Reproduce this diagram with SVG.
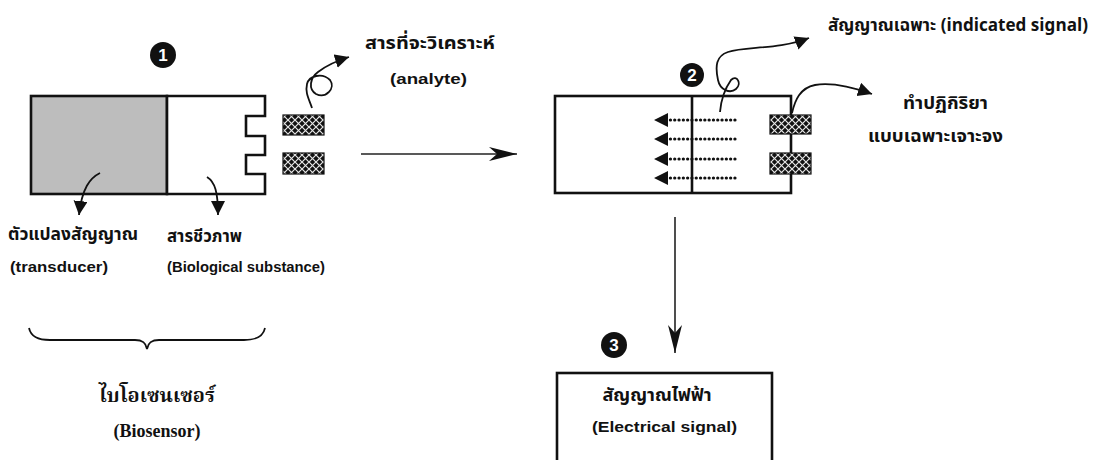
<svg xmlns="http://www.w3.org/2000/svg" width="1099" height="460" viewBox="0 0 1099 460">
<style>
.t{font-family:Tahoma,"Noto Sans Thai","Noto Sans","Liberation Sans",sans-serif;font-size:18px;fill:#111;font-weight:bold}
.e{font-family:"Liberation Sans",Arial,sans-serif;font-size:15px;fill:#111;font-weight:bold}
.s{font-family:"Liberation Serif","Noto Serif Thai","Noto Sans Thai",serif;font-size:20px;fill:#111;font-weight:bold}
.box{fill:#fff;stroke:#111;stroke-width:2.6}
.curve{fill:none;stroke:#111;stroke-width:1.8}
.thin{fill:none;stroke:#222;stroke-width:1.6}
.dots{fill:none;stroke:#111;stroke-width:3.2;stroke-linecap:round;stroke-dasharray:0.1 4.2}
.num{fill:#111}
.dig{font-family:"Liberation Sans",Arial,sans-serif;font-size:17px;font-weight:bold;fill:#fff}
.pad{fill:url(#hatch);stroke:#111;stroke-width:1.2}
</style>
<defs>
<pattern id="hatch" width="7" height="7" patternUnits="userSpaceOnUse" x="1" y="1">
<rect width="7" height="7" fill="#111"/>
<path d="M0,0 L7,7 M7,0 L0,7" stroke="#e6e6e6" stroke-width="1.2"/>
</pattern>
<linearGradient id="fade" x1="0" x2="1" y1="0" y2="0">
<stop offset="0" stop-color="#b8b8b8"/>
<stop offset="0.68" stop-color="#bdbdbd"/>
<stop offset="1" stop-color="#ececec"/>
</linearGradient>
<marker id="tri" markerUnits="userSpaceOnUse" markerWidth="16" markerHeight="16" refX="14" refY="7" orient="auto">
<path d="M0,0 L14,7 L0,14 Z" fill="#111"/>
</marker>
<marker id="barb" markerUnits="userSpaceOnUse" markerWidth="32" markerHeight="18" refX="30" refY="8" orient="auto">
<path d="M2,1 L30,8 L2,15 L10,8 Z" fill="#111"/>
</marker>
</defs>

<g id="sensor1">
<rect x="31" y="96" width="136" height="98" fill="#bdbdbd" stroke="#111" stroke-width="2.6"/>
<path class="box" d="M167,96 H265 V116 H246 V136 H265 V155 H246 V174 H265 V194 H167 Z"/>
<circle class="num" cx="163" cy="55" r="13"/>
<text class="dig" x="163" y="61" text-anchor="middle">1</text>
</g>

<g id="analyte1">
<rect class="pad" x="283" y="115" width="41" height="20"/>
<rect class="pad" x="283" y="153" width="41" height="21"/>
</g>

<g id="label-analyte">
<text class="t" x="365" y="49" textLength="130" lengthAdjust="spacingAndGlyphs">สารที่จะวิเคราะห์</text>
<text class="e" x="390" y="84" textLength="77" lengthAdjust="spacingAndGlyphs">(analyte)</text>
</g>

<g id="label-transducer">
<text class="t" x="8" y="240" textLength="130" lengthAdjust="spacingAndGlyphs">ตัวแปลงสัญญาณ</text>
<text class="e" x="10" y="272" textLength="98" lengthAdjust="spacingAndGlyphs">(transducer)</text>
</g>

<g id="label-bio">
<text class="t" x="167" y="242" textLength="75" lengthAdjust="spacingAndGlyphs">สารชีวภาพ</text>
<text class="e" x="167" y="272" textLength="158" lengthAdjust="spacingAndGlyphs">(Biological substance)</text>
</g>

<g id="biosensor">
<path class="curve" d="M29,328 C31,337 38,340 50,340 L135,340 C143,340 146,343 147,349 C148,343 151,340 159,340 L244,340 C256,340 263,337 265,328"/>
<text class="s" x="157" y="402" text-anchor="middle">ไบโอเซนเซอร์</text>
<text class="s" x="157" y="437" text-anchor="middle" style="font-size:18px">(Biosensor)</text>
</g>

<g id="sensor2">
<rect x="555" y="96" width="236" height="97" fill="#fff"/>
<rect x="555" y="96" width="137" height="97" fill="url(#fade)"/>
<rect class="box" x="555" y="96" width="236" height="97" fill="none"/>
<line x1="692" y1="96" x2="692" y2="193" stroke="#111" stroke-width="2.6"/>
<circle class="num" cx="692" cy="75" r="12"/>
<text class="dig" x="692" y="81" text-anchor="middle">2</text>
<rect class="pad" x="770" y="115" width="41" height="19"/>
<rect class="pad" x="770" y="153" width="41" height="21"/>
</g>

<g id="label-indicated">
<text class="t" x="828" y="31" textLength="260" lengthAdjust="spacingAndGlyphs" style="font-size:17px">สัญญาณเฉพาะ (indicated signal)</text>
</g>

<g id="label-reaction">
<text class="t" x="903" y="109" textLength="85" lengthAdjust="spacingAndGlyphs">ทำปฏิกิริยา</text>
<text class="t" x="868" y="142" textLength="135" lengthAdjust="spacingAndGlyphs">แบบเฉพาะเจาะจง</text>
</g>

<g id="electrical">
<rect class="box" x="557" y="373" width="215" height="100"/>
<circle class="num" cx="614" cy="345" r="13"/>
<text class="dig" x="614" y="351" text-anchor="middle">3</text>
<text class="t" x="657" y="401" text-anchor="middle">สัญญาณไฟฟ้า</text>
<text class="e" x="592" y="432" textLength="145" lengthAdjust="spacingAndGlyphs">(Electrical  signal)</text>
</g>

<g id="connectors">
<path class="curve" d="M312,108 C309,99 305,93 307,84 C309,76 322,72 330,80 C336,88 326,99 316,94 C308,89 310,78 318,72 C327,65 336,61 349,57" marker-end="url(#tri)"/>
<path class="curve" d="M100,173 C90,178 82,188 79,215" marker-end="url(#tri)"/>
<path class="curve" d="M207,177 C215,182 218,192 218,215" marker-end="url(#tri)"/>
<line class="thin" x1="361" y1="154" x2="517" y2="154" marker-end="url(#barb)"/>
<path class="curve" d="M720,112 C721,100 724,90 731,80 C737,74 742,84 736,89 C730,94 720,90 718,80 C715,66 716,56 728,52 C745,46 778,50 809,38" marker-end="url(#tri)"/>
<path class="curve" d="M792,113 C795,100 800,88 815,85 C832,82 852,87 872,94" marker-end="url(#tri)"/>
<line class="dots" x1="735" y1="120" x2="666" y2="120"/>
<line class="dots" x1="735" y1="139" x2="666" y2="139"/>
<line class="dots" x1="735" y1="159" x2="666" y2="159"/>
<line class="dots" x1="735" y1="178" x2="666" y2="178"/>
<path d="M668,113 L654,120 L668,127 Z M668,132 L654,139 L668,146 Z M668,152 L654,159 L668,166 Z M668,171 L654,178 L668,185 Z" fill="#111"/>
<line class="thin" x1="675" y1="217" x2="675" y2="353" marker-end="url(#barb)"/>
</g>
</svg>
